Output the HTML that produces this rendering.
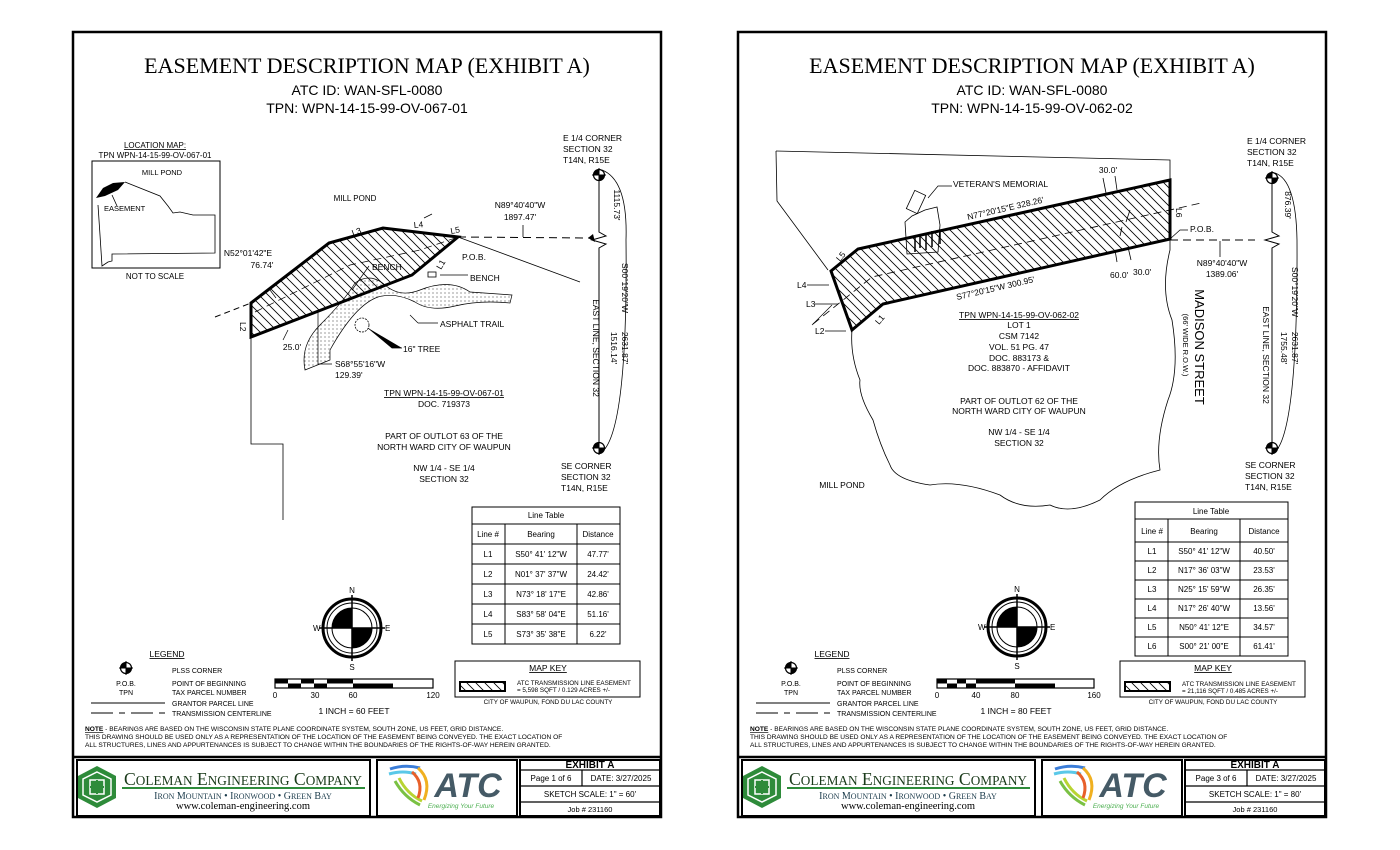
<!DOCTYPE html>
<html><head><meta charset="utf-8"><style>
html,body{margin:0;padding:0;background:#fff;}
svg{display:block;}
text{font-family:"Liberation Sans",sans-serif;}
.s{font-size:8.5px;}
.ser{font-family:"Liberation Serif",serif;}
</style></head><body>
<svg width="1400" height="850" viewBox="0 0 1400 850" xmlns="http://www.w3.org/2000/svg">
<defs>
<pattern id="h" width="9" height="9" patternUnits="userSpaceOnUse">
<path d="M-1,-1 L10,10 M-1,8 L1,10 M8,-1 L10,1" stroke="#000" stroke-width="0.8"/>
</pattern>
<pattern id="d" width="4" height="4" patternUnits="userSpaceOnUse">
<circle cx="1" cy="1" r="0.5" fill="#000"/>
</pattern>
<g id="plss">
<circle cx="0" cy="0" r="5.5" fill="#fff" stroke="#000" stroke-width="1.2"/>
<path d="M0,0 L0,-5.5 A5.5,5.5 0 0,0 -5.5,0 Z M0,0 L0,5.5 A5.5,5.5 0 0,0 5.5,0 Z" fill="#000"/>
<path d="M-7,0 H7 M0,-7 V7" stroke="#000" stroke-width="1"/>
</g>
<g id="compass">
<circle r="29" fill="none" stroke="#000" stroke-width="3"/>
<circle r="25" fill="none" stroke="#000" stroke-width="1"/>
<circle r="20" fill="#fff" stroke="#000" stroke-width="1"/>
<path d="M0,0 L0,-20 A20,20 0 0,0 -20,0 Z M0,0 L0,20 A20,20 0 0,0 20,0 Z" fill="#000"/>
<path d="M0,-33 V33 M-33,0 H33" stroke="#000" stroke-width="1.5"/>
<text x="0" y="-35" font-size="8" text-anchor="middle">N</text>
<text x="0" y="42" font-size="8" text-anchor="middle">S</text>
<text x="33" y="3" font-size="8">E</text>
<text x="-39" y="3" font-size="8">W</text>
</g>
<g id="legend">
<text x="167" y="657" class="s" text-anchor="middle" text-decoration="underline">LEGEND</text>
<use href="#plss" x="126" y="668"/>
<text x="172" y="673" font-size="7">PLSS CORNER</text>
<text x="126" y="686" font-size="7" text-anchor="middle">P.O.B.</text>
<text x="172" y="686" font-size="7">POINT OF BEGINNING</text>
<text x="126" y="695" font-size="7" text-anchor="middle">TPN</text>
<text x="172" y="695" font-size="7">TAX PARCEL NUMBER</text>
<path d="M91,703 H165" stroke="#000" stroke-width="1"/>
<text x="172" y="706" font-size="7">GRANTOR PARCEL LINE</text>
<path d="M91,713 H165" stroke="#000" stroke-width="1" stroke-dasharray="22,6,6,6"/>
<text x="172" y="716" font-size="7">TRANSMISSION CENTERLINE</text>
<text x="85" y="731" font-size="6.6"><tspan font-weight="bold" text-decoration="underline">NOTE</tspan> - BEARINGS ARE BASED ON THE WISCONSIN STATE PLANE COORDINATE SYSTEM, SOUTH ZONE, US FEET, GRID DISTANCE.</text>
<text x="85" y="739" font-size="6.6">THIS DRAWING SHOULD BE USED ONLY AS A REPRESENTATION OF THE LOCATION OF THE EASEMENT BEING CONVEYED. THE EXACT LOCATION OF</text>
<text x="85" y="747" font-size="6.6">ALL STRUCTURES, LINES AND APPURTENANCES IS SUBJECT TO CHANGE WITHIN THE BOUNDARIES OF THE RIGHTS-OF-WAY HEREIN GRANTED.</text>
<rect x="455" y="661" width="185" height="36" fill="none" stroke="#000" stroke-width="1"/>
<text x="548" y="671" class="s" text-anchor="middle" text-decoration="underline">MAP KEY</text>
<rect x="460" y="682" width="45" height="9" fill="url(#h)" stroke="#000" stroke-width="2"/>
<text x="517" y="685" font-size="6.3">ATC TRANSMISSION LINE EASEMENT</text>
<text x="517" y="692" font-size="6.3">= 5,598 SQFT / 0.129 ACRES +/-</text>
<text x="548" y="704" font-size="6.3" text-anchor="middle">CITY OF WAUPUN, FOND DU LAC COUNTY</text>
<path d="M73,757 H661" stroke="#000" stroke-width="2.5"/>
<rect x="77" y="760" width="293" height="56" fill="none" stroke="#000" stroke-width="2"/>
<rect x="377" y="760" width="140" height="56" fill="none" stroke="#000" stroke-width="2"/>
<rect x="520" y="760" width="140" height="56" fill="none" stroke="#000" stroke-width="2"/>
<path d="M520,770 H660 M520,786 H660 M520,802 H660 M582,770 V786" stroke="#000" stroke-width="1.2"/>
<text x="590" y="768" font-size="10" font-weight="bold" text-anchor="middle">EXHIBIT A</text>
<text x="551" y="781" font-size="8" text-anchor="middle">Page 1 of 6</text>
<text x="621" y="781" font-size="8" text-anchor="middle">DATE:  3/27/2025</text>
<text x="590" y="797" font-size="8" text-anchor="middle">SKETCH SCALE: 1" = 60'</text>
<text x="590" y="812" font-size="7.5" text-anchor="middle">Job # 231160</text>
<polygon points="97,766 116,776 116,798 97,808 78,798 78,776" fill="#2e8b3a"/>
<polygon points="97,772 111,779 111,795 97,802 83,795 83,779" fill="none" stroke="#fff" stroke-width="1.5"/>
<path d="M90,780 H104 V794 H90 Z" fill="none" stroke="#fff" stroke-width="1.5"/>
<path d="M97,780 V794 M90,787 H104" stroke="#2e8b3a" stroke-width="2"/>
<text x="124" y="785" class="ser" font-size="18" style="fill:#1a3a1a" textLength="238" lengthAdjust="spacingAndGlyphs">C<tspan font-size="13.5">OLEMAN</tspan> E<tspan font-size="13.5">NGINEERING</tspan> C<tspan font-size="13.5">OMPANY</tspan></text>
<path d="M122,788 H365" stroke="#2e8b3a" stroke-width="2"/>
<text x="243" y="799" class="ser" font-size="10" text-anchor="middle" style="fill:#1a3a4a">I<tspan font-size="8">RON</tspan> M<tspan font-size="8">OUNTAIN</tspan> • I<tspan font-size="8">RONWOOD</tspan> • G<tspan font-size="8">REEN</tspan> B<tspan font-size="8">AY</tspan></text>
<text x="243" y="809" class="ser" font-size="10.5" text-anchor="middle">www.coleman-engineering.com</text>
<path d="M390,769 Q405,764 420,768" stroke="#3b7dd8" stroke-width="3" fill="none"/>
<path d="M389,774 Q403,770 416,774" stroke="#5ac8e8" stroke-width="3" fill="none"/>
<path d="M395,781 Q404,797 420,805" stroke="#7ac143" stroke-width="3" fill="none"/>
<path d="M399,778 Q407,794 422,801" stroke="#b8d432" stroke-width="3" fill="none"/>
<path d="M418,768 Q432,780 424,800" stroke="#f0b020" stroke-width="3" fill="none"/>
<path d="M412,772 Q424,782 418,798" stroke="#e8602a" stroke-width="3" fill="none"/>
<text x="468" y="797" font-size="34" font-weight="bold" font-style="italic" style="fill:#455a66" text-anchor="middle">ATC</text>
<text x="461" y="808" font-size="6.5" font-style="italic" style="fill:#4caf50" text-anchor="middle">Energizing Your Future</text>
</g>
</defs>

<!-- ================= PAGE 1 ================= -->
<rect x="73" y="32" width="588" height="785" fill="none" stroke="#000" stroke-width="2.5"/>
<text x="367" y="73" class="ser" font-size="22" text-anchor="middle">EASEMENT DESCRIPTION MAP (EXHIBIT A)</text>
<text x="367" y="95" font-size="14" text-anchor="middle">ATC ID: WAN-SFL-0080</text>
<text x="367" y="113" font-size="14" text-anchor="middle">TPN: WPN-14-15-99-OV-067-01</text>

<text x="155" y="148" font-size="8" text-anchor="middle" text-decoration="underline">LOCATION MAP:</text>
<text x="155" y="158" font-size="8" text-anchor="middle">TPN WPN-14-15-99-OV-067-01</text>
<rect x="92" y="161" width="128" height="107" fill="none" stroke="#000" stroke-width="1"/>
<text x="162" y="175" font-size="7.5" text-anchor="middle">MILL POND</text>
<polygon points="96,198 103,188 113,183 125,182 118,190 105,196" fill="#000"/>
<path d="M125,182 L160,196 L168,206 L173,213 L180,212 L193,215 L215,215 L215,253 L112,254 L112,261 L108,262 L102,266 L100,235 L98,205" fill="none" stroke="#000" stroke-width="0.8"/>
<path d="M117,206 L112,195" stroke="#000" stroke-width="0.8"/>
<text x="104" y="211" font-size="7.5">EASEMENT</text>
<text x="155" y="279" font-size="8" text-anchor="middle">NOT TO SCALE</text>

<text x="355" y="201" font-size="8" text-anchor="middle">MILL POND</text>
<path d="M215,317 L251,303" stroke="#000" stroke-dasharray="6,4" fill="none"/>
<path d="M251,337 V444 H283 V520" stroke="#000" stroke-width="0.8" fill="none"/>
<path d="M458,237 L580,282" stroke="#000" stroke-width="0.8" fill="none"/>
<path d="M458,237 L591,238" stroke="#000" stroke-dasharray="8,5" fill="none"/>
<polygon points="251,303 329,243 383,228 458,237 412,275 251,337" fill="url(#h)" stroke="#000" stroke-width="3"/>
<path d="M255,312 L350,265 L420,250 L458,237" stroke="#000" stroke-dasharray="8,5" fill="none" stroke-width="0.7"/>
<path d="M424,218 L432,214" stroke="#000" stroke-width="0.7"/>
<path d="M355,283 Q370,272 385,285 Q400,298 420,290 Q450,278 470,292 L512,295 L510,303 Q480,300 455,306 Q430,312 415,302 Q395,292 378,297 Q355,305 330,350 L330,360 L305,370 Q300,345 320,325 Q345,300 355,283 Z" fill="url(#d)" stroke="#000" stroke-width="0.7"/>
<circle cx="362" cy="325" r="7" fill="#fff" stroke="#000" stroke-width="0.8" stroke-dasharray="2,1"/>
<rect x="428" y="272" width="8" height="5" fill="#fff" stroke="#000" stroke-width="0.8"/>
<use href="#plss" x="599" y="175"/>
<use href="#plss" x="599" y="448"/>
<path d="M599,175 V232 L606,236 L592,240 L606,244 L599,248 V448" stroke="#000" stroke-width="1" fill="none"/>
<path d="M602,170 Q628,180 626,240 Q628,430 602,452" stroke="#000" stroke-width="0.8" fill="none"/>
<path d="M588,238 L593,234 L595,242 Z" fill="#000"/>
<text x="563" y="141" class="s">E 1/4 CORNER</text>
<text x="563" y="152" class="s">SECTION 32</text>
<text x="563" y="163" class="s">T14N, R15E</text>
<text x="561" y="469" class="s">SE CORNER</text>
<text x="561" y="480" class="s">SECTION 32</text>
<text x="561" y="491" class="s">T14N, R15E</text>
<text transform="translate(614,205) rotate(90)" class="s" text-anchor="middle">1115.73'</text>
<text transform="translate(622,288) rotate(90)" class="s" text-anchor="middle">S00°19'20"W</text>
<text transform="translate(622,348) rotate(90)" class="s" text-anchor="middle">2631.87'</text>
<text transform="translate(611,348) rotate(90)" class="s" text-anchor="middle">1516.14'</text>
<text transform="translate(593,348) rotate(90)" class="s" text-anchor="middle">EAST LINE, SECTION 32</text>
<text x="520" y="208" class="s" text-anchor="middle">N89°40'40"W</text>
<text x="520" y="220" class="s" text-anchor="middle">1897.47'</text>
<path d="M523,225 V237" stroke="#000" stroke-width="0.8"/>
<text x="248" y="256" class="s" text-anchor="middle">N52°01'42"E</text>
<text x="262" y="268" class="s" text-anchor="middle">76.74'</text>
<text transform="translate(353,236) rotate(-20)" class="s">L3</text>
<text transform="translate(414,228) rotate(-5)" class="s">L4</text>
<text transform="translate(451,234) rotate(-10)" class="s">L5</text>
<text transform="translate(441,270) rotate(-60)" class="s">L1</text>
<text transform="translate(240,322) rotate(90)" class="s">L2</text>
<text x="462" y="260" class="s">P.O.B.</text>
<text x="372" y="270" class="s">BENCH</text>
<text x="470" y="281" class="s">BENCH</text>
<path d="M440,275 H468 M369,266 L352,290" stroke="#000" stroke-width="0.7"/>
<text x="440" y="327" class="s">ASPHALT TRAIL</text>
<path d="M418,323 H438 M418,323 L410,315" stroke="#000" stroke-width="0.7"/>
<text x="403" y="352" class="s">16" TREE</text>
<path d="M368,328 L392,348 H402" stroke="#000" stroke-width="0.7"/>
<text x="292" y="350" class="s" text-anchor="middle">25.0'</text>
<text x="335" y="367" class="s">S68°55'16"W</text>
<text x="335" y="378" class="s">129.39'</text>
<path d="M318,312 V364 H332 M288,330 L283,340 M270,290 L276,298" stroke="#000" stroke-width="0.7" fill="none"/>
<text x="444" y="396" class="s" text-anchor="middle" text-decoration="underline">TPN WPN-14-15-99-OV-067-01</text>
<text x="444" y="407" class="s" text-anchor="middle">DOC. 719373</text>
<text x="444" y="439" class="s" text-anchor="middle">PART OF OUTLOT 63 OF THE</text>
<text x="444" y="450" class="s" text-anchor="middle">NORTH WARD CITY OF WAUPUN</text>
<text x="444" y="471" class="s" text-anchor="middle">NW 1/4 - SE 1/4</text>
<text x="444" y="482" class="s" text-anchor="middle">SECTION 32</text>

<g stroke="#000" fill="none" stroke-width="1">
<rect x="472" y="507" width="148" height="137"/>
<path d="M472,524 H620 M472,544 H620 M472,564 H620 M472,584 H620 M472,604 H620 M472,624 H620 M505,524 V644 M577,524 V644"/>
</g>
<g font-size="8" text-anchor="middle">
<text x="546" y="518">Line Table</text>
<text x="488" y="537">Line #</text><text x="541" y="537">Bearing</text><text x="598" y="537">Distance</text>
<text x="488" y="557">L1</text><text x="541" y="557">S50° 41' 12"W</text><text x="598" y="557">47.77'</text>
<text x="488" y="577">L2</text><text x="541" y="577">N01° 37' 37"W</text><text x="598" y="577">24.42'</text>
<text x="488" y="597">L3</text><text x="541" y="597">N73° 18' 17"E</text><text x="598" y="597">42.86'</text>
<text x="488" y="617">L4</text><text x="541" y="617">S83° 58' 04"E</text><text x="598" y="617">51.16'</text>
<text x="488" y="637">L5</text><text x="541" y="637">S73° 35' 38"E</text><text x="598" y="637">6.22'</text>
</g>
<use href="#compass" x="352" y="628"/>
<use href="#legend"/>
<rect x="275" y="679" width="158" height="9" fill="#fff" stroke="#000" stroke-width="1.2"/>
<path d="M275,681.5 H288 M301,681.5 H314 M327,681.5 H353 M353,685.5 H393" stroke="#000" stroke-width="4"/>
<path d="M288,685.5 H301 M314,685.5 H327" stroke="#000" stroke-width="4"/>
<g font-size="8" text-anchor="middle"><text x="275" y="698">0</text><text x="315" y="698">30</text><text x="353" y="698">60</text><text x="433" y="698">120</text></g>
<text x="354" y="714" font-size="8.5" text-anchor="middle">1 INCH = 60 FEET</text>

<!-- ================= PAGE 2 ================= -->
<rect x="738" y="32" width="588" height="785" fill="none" stroke="#000" stroke-width="2.5"/>
<text x="1032" y="73" class="ser" font-size="22" text-anchor="middle">EASEMENT DESCRIPTION MAP (EXHIBIT A)</text>
<text x="1032" y="95" font-size="14" text-anchor="middle">ATC ID: WAN-SFL-0080</text>
<text x="1032" y="113" font-size="14" text-anchor="middle">TPN: WPN-14-15-99-OV-062-02</text>

<path d="M776,151 L1170,160 V250 Q1160,290 1172,320 Q1180,370 1168,400 Q1155,440 1160,470 Q1120,480 1100,500 Q1070,515 1050,505 Q1020,510 1000,495 Q960,480 930,485 Q895,480 890,465 Q880,445 873,420 Q858,395 860,380 Q850,355 852,330" fill="none" stroke="#000" stroke-width="0.8"/>
<path d="M776,151 L777,201 L828,270" fill="none" stroke="#000" stroke-width="0.8"/>
<g stroke="#000" stroke-width="0.8" fill="#fff">
<path d="M907,254 L905,222 L912,216 L925,210 L937,207 L940,225 L938,252 Z"/>
<rect x="910" y="192" width="12" height="20" transform="rotate(25 916 202)"/>
</g>
<polygon points="831,271 858,249 1170,180 1170,239 883,304 852,330" fill="url(#h)" stroke="#000" stroke-width="3"/>
<path d="M813,324 L872,277 L1201,203" stroke="#000" stroke-dasharray="8,5" fill="none" stroke-width="0.8"/>
<path d="M1170,240 L1255,240" stroke="#000" stroke-dasharray="8,5" fill="none"/>
<g stroke="#000" stroke-width="1.5"><path d="M915,236 V252 M920,234 V248 M926,233 V250 M932,231 V247 M940,230 V244"/></g>
<path d="M928,198 L938,186 H952" stroke="#000" stroke-width="0.7" fill="none"/>
<text x="953" y="187" class="s">VETERAN'S MEMORIAL</text>
<text x="1108" y="173" class="s" text-anchor="middle">30.0'</text>
<path d="M1103,178 L1106,193 M1115,176 L1117,190 M1130,210 L1126,222 M1122,227 L1120,236 M1117,262 L1115,250 M1131,260 L1128,247" stroke="#000" stroke-width="0.8"/>
<text transform="translate(968,220) rotate(-13)" class="s">N77°20'15"E  328.26'</text>
<text transform="translate(957,300) rotate(-13)" class="s">S77°20'15"W  300.95'</text>
<text transform="translate(1176,208) rotate(90)" class="s">L6</text>
<text x="1190" y="232" class="s">P.O.B.</text>
<path d="M1170,239 L1180,230 H1188" stroke="#000" stroke-width="0.7" fill="none"/>
<text x="1222" y="266" class="s" text-anchor="middle">N89°40'40"W</text>
<text x="1222" y="277" class="s" text-anchor="middle">1389.06'</text>
<path d="M1220,241 V257" stroke="#000" stroke-width="0.8"/>
<text x="1110" y="278" class="s">60.0'</text>
<text x="1133" y="275" class="s">30.0'</text>
<text transform="translate(840,262) rotate(-50)" class="s">L5</text>
<text transform="translate(879,325) rotate(-50)" class="s">L1</text>
<text x="797" y="288" class="s">L4</text>
<text x="806" y="307" class="s">L3</text>
<text x="815" y="334" class="s">L2</text>
<path d="M807,285 H829 M815,304 H838 M825,331 H846 M812,325 L832,305" stroke="#000" stroke-width="0.7"/>
<text x="1019" y="318" class="s" text-anchor="middle" text-decoration="underline">TPN WPN-14-15-99-OV-062-02</text>
<text x="1019" y="328" class="s" text-anchor="middle">LOT 1</text>
<text x="1019" y="339" class="s" text-anchor="middle">CSM 7142</text>
<text x="1019" y="350" class="s" text-anchor="middle">VOL. 51 PG. 47</text>
<text x="1019" y="361" class="s" text-anchor="middle">DOC. 883173 &amp;</text>
<text x="1019" y="371" class="s" text-anchor="middle">DOC. 883870 - AFFIDAVIT</text>
<text x="1019" y="404" class="s" text-anchor="middle">PART OF OUTLOT 62 OF THE</text>
<text x="1019" y="414" class="s" text-anchor="middle">NORTH WARD CITY OF WAUPUN</text>
<text x="1019" y="435" class="s" text-anchor="middle">NW 1/4 - SE 1/4</text>
<text x="1019" y="446" class="s" text-anchor="middle">SECTION 32</text>
<text x="842" y="488" class="s" text-anchor="middle">MILL POND</text>
<text transform="translate(1195,347) rotate(90)" font-size="13" text-anchor="middle">MADISON STREET</text>
<text transform="translate(1183,345) rotate(90)" font-size="7.5" text-anchor="middle">(66' WIDE R.O.W.)</text>
<use href="#plss" x="1272" y="178"/>
<use href="#plss" x="1272" y="448"/>
<path d="M1272,178 V232 L1279,236 L1265,240 L1279,244 L1272,248 V448" stroke="#000" stroke-width="1" fill="none"/>
<path d="M1275,173 Q1296,180 1297,240 Q1298,430 1275,452" stroke="#000" stroke-width="0.8" fill="none"/>
<text x="1247" y="144" class="s">E 1/4 CORNER</text>
<text x="1247" y="155" class="s">SECTION 32</text>
<text x="1247" y="166" class="s">T14N, R15E</text>
<text x="1245" y="468" class="s">SE CORNER</text>
<text x="1245" y="479" class="s">SECTION 32</text>
<text x="1245" y="490" class="s">T14N, R15E</text>
<text transform="translate(1285,205) rotate(90)" class="s" text-anchor="middle">876.39'</text>
<text transform="translate(1292,292) rotate(90)" class="s" text-anchor="middle">S00°19'20"W</text>
<text transform="translate(1292,348) rotate(90)" class="s" text-anchor="middle">2631.87'</text>
<text transform="translate(1281,348) rotate(90)" class="s" text-anchor="middle">1755.48'</text>
<text transform="translate(1263,355) rotate(90)" class="s" text-anchor="middle">EAST LINE, SECTION 32</text>

<g stroke="#000" fill="none" stroke-width="1">
<rect x="1135" y="502" width="153" height="154"/>
<path d="M1135,519 H1288 M1135,542 H1288 M1135,561 H1288 M1135,580 H1288 M1135,599 H1288 M1135,618 H1288 M1135,637 H1288 M1168,519 V656 M1240,519 V656"/>
</g>
<g font-size="8" text-anchor="middle">
<text x="1211" y="514">Line Table</text>
<text x="1152" y="534">Line #</text><text x="1204" y="534">Bearing</text><text x="1264" y="534">Distance</text>
<text x="1152" y="554">L1</text><text x="1204" y="554">S50° 41' 12"W</text><text x="1264" y="554">40.50'</text>
<text x="1152" y="573">L2</text><text x="1204" y="573">N17° 36' 03"W</text><text x="1264" y="573">23.53'</text>
<text x="1152" y="592">L3</text><text x="1204" y="592">N25° 15' 59"W</text><text x="1264" y="592">26.35'</text>
<text x="1152" y="611">L4</text><text x="1204" y="611">N17° 26' 40"W</text><text x="1264" y="611">13.56'</text>
<text x="1152" y="630">L5</text><text x="1204" y="630">N50° 41' 12"E</text><text x="1264" y="630">34.57'</text>
<text x="1152" y="649">L6</text><text x="1204" y="649">S00° 21' 00"E</text><text x="1264" y="649">61.41'</text>
</g>
<use href="#compass" x="1017" y="627"/>
<g transform="translate(665,0)">
<use href="#legend"/>
</g>
<rect x="1186" y="771" width="60" height="14" fill="#fff"/>
<text x="1216" y="781" font-size="8" text-anchor="middle">Page 3 of 6</text>
<rect x="1188" y="787" width="130" height="14" fill="#fff"/>
<text x="1255" y="797" font-size="8" text-anchor="middle">SKETCH SCALE: 1" = 80'</text>
<rect x="937" y="679" width="157" height="9" fill="#fff" stroke="#000" stroke-width="1.2"/>
<path d="M937,681.5 H947 M957,681.5 H966 M976,681.5 H1015 M1015,685.5 H1055" stroke="#000" stroke-width="4"/>
<path d="M947,685.5 H957 M966,685.5 H976" stroke="#000" stroke-width="4"/>
<g font-size="8" text-anchor="middle"><text x="937" y="698">0</text><text x="976" y="698">40</text><text x="1015" y="698">80</text><text x="1094" y="698">160</text></g>
<text x="1016" y="714" font-size="8.5" text-anchor="middle">1 INCH = 80 FEET</text>
<rect x="1180" y="680" width="120" height="14" fill="#fff"/>
<text x="1182" y="686" font-size="6.3">ATC TRANSMISSION LINE EASEMENT</text>
<text x="1182" y="693" font-size="6.3">= 21,116 SQFT / 0.485 ACRES +/-</text>
</svg>
</body></html>
